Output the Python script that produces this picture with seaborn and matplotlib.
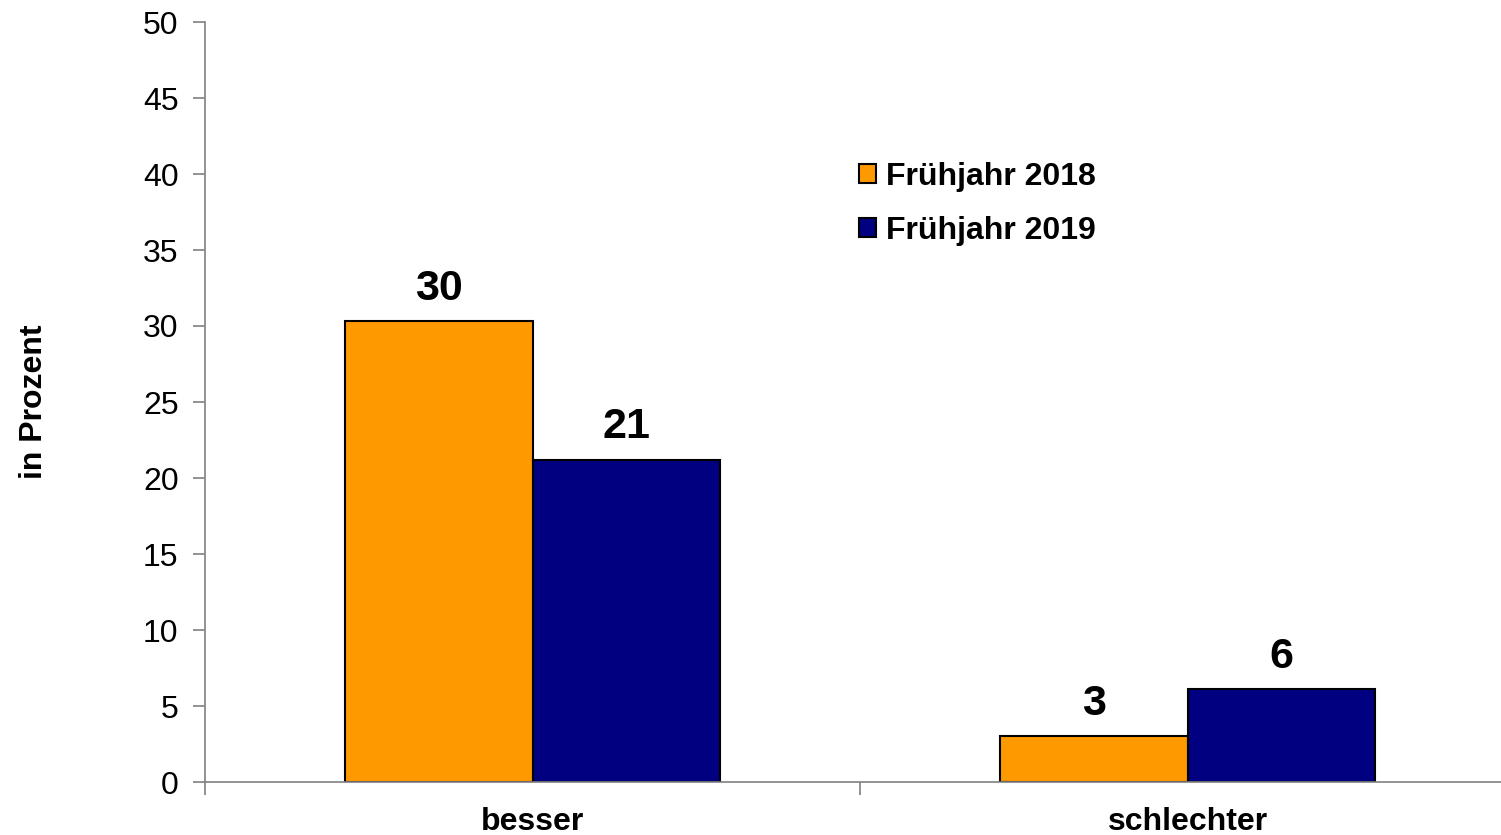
import pandas as pd
import seaborn as sns
import matplotlib.pyplot as plt
from matplotlib.patches import Patch

# Werte
kategorien = ['besser', 'schlechter']
fruehjahr_2018 = [30.3, 3.0]
fruehjahr_2019 = [21.2, 6.1]
serien = ['Frühjahr 2018', 'Frühjahr 2019']
farben = ['#FF9900', '#000080']

df = pd.DataFrame({
    'Kategorie': kategorien * 2,
    'Wert': fruehjahr_2018 + fruehjahr_2019,
    'Serie': [serien[0]] * 2 + [serien[1]] * 2,
})

sns.set_style('white')
plt.rcParams['font.family'] = ['Liberation Sans', 'DejaVu Sans']
plt.rcParams['text.color'] = 'black'
plt.rcParams['axes.labelcolor'] = 'black'
plt.rcParams['xtick.color'] = 'black'
plt.rcParams['ytick.color'] = 'black'

fig = plt.figure(figsize=(15.01, 8.35), dpi=100)
ax = fig.add_axes([205 / 1501, 1 - 782 / 835, 1310 / 1501, 760 / 835])

sns.barplot(data=df, x='Kategorie', y='Wert', hue='Serie', palette=farben,
            saturation=1, width=0.574, gap=0, edgecolor='black', linewidth=1.5,
            legend=False, ax=ax)

# Wertbeschriftungen
for cont in ax.containers:
    ax.bar_label(cont, labels=[f'{v:.0f}' for v in cont.datavalues],
                 padding=9, fontsize=31, fontweight='bold', color='black')

ax.set_ylim(0, 50)
ax.set_xlim(-0.5, 1.5)
ax.set_yticks(range(0, 51, 5))
ax.tick_params(axis='y', labelsize=23, length=9, width=1.2, color='#808080',
               labelcolor='black', direction='out', left=True, pad=10)
ax.set_xticks([0, 1])
ax.set_xticklabels(kategorien, fontsize=23, fontweight='bold')
ax.tick_params(axis='x', which='major', length=0, pad=18, labelcolor='black')
ax.set_xticks([-0.5, 0.5, 1.5], minor=True)
ax.tick_params(axis='x', which='minor', length=9, width=1.2, color='#808080',
               direction='out', bottom=True)

ax.set_xlabel('')
ax.set_ylabel('in Prozent', fontsize=23, fontweight='bold')
ax.yaxis.set_label_coords(-0.119, 0.5)

for s in ['top', 'right']:
    ax.spines[s].set_visible(False)
for s in ['left', 'bottom']:
    ax.spines[s].set_color('#808080')
    ax.spines[s].set_linewidth(1.2)

handles = [Patch(facecolor=c, edgecolor='black', linewidth=1.5) for c in farben]
leg = ax.legend(handles, serien, loc='upper left',
                bbox_to_anchor=((846 - 205) / 1310, 1 - (149 - 22) / 760),
                frameon=False, handlelength=0.55, handleheight=0.55,
                handletextpad=0.3, labelspacing=0.75, borderaxespad=0,
                prop={'size': 23, 'weight': 'bold'})

fig.savefig('out.png', dpi=100)
